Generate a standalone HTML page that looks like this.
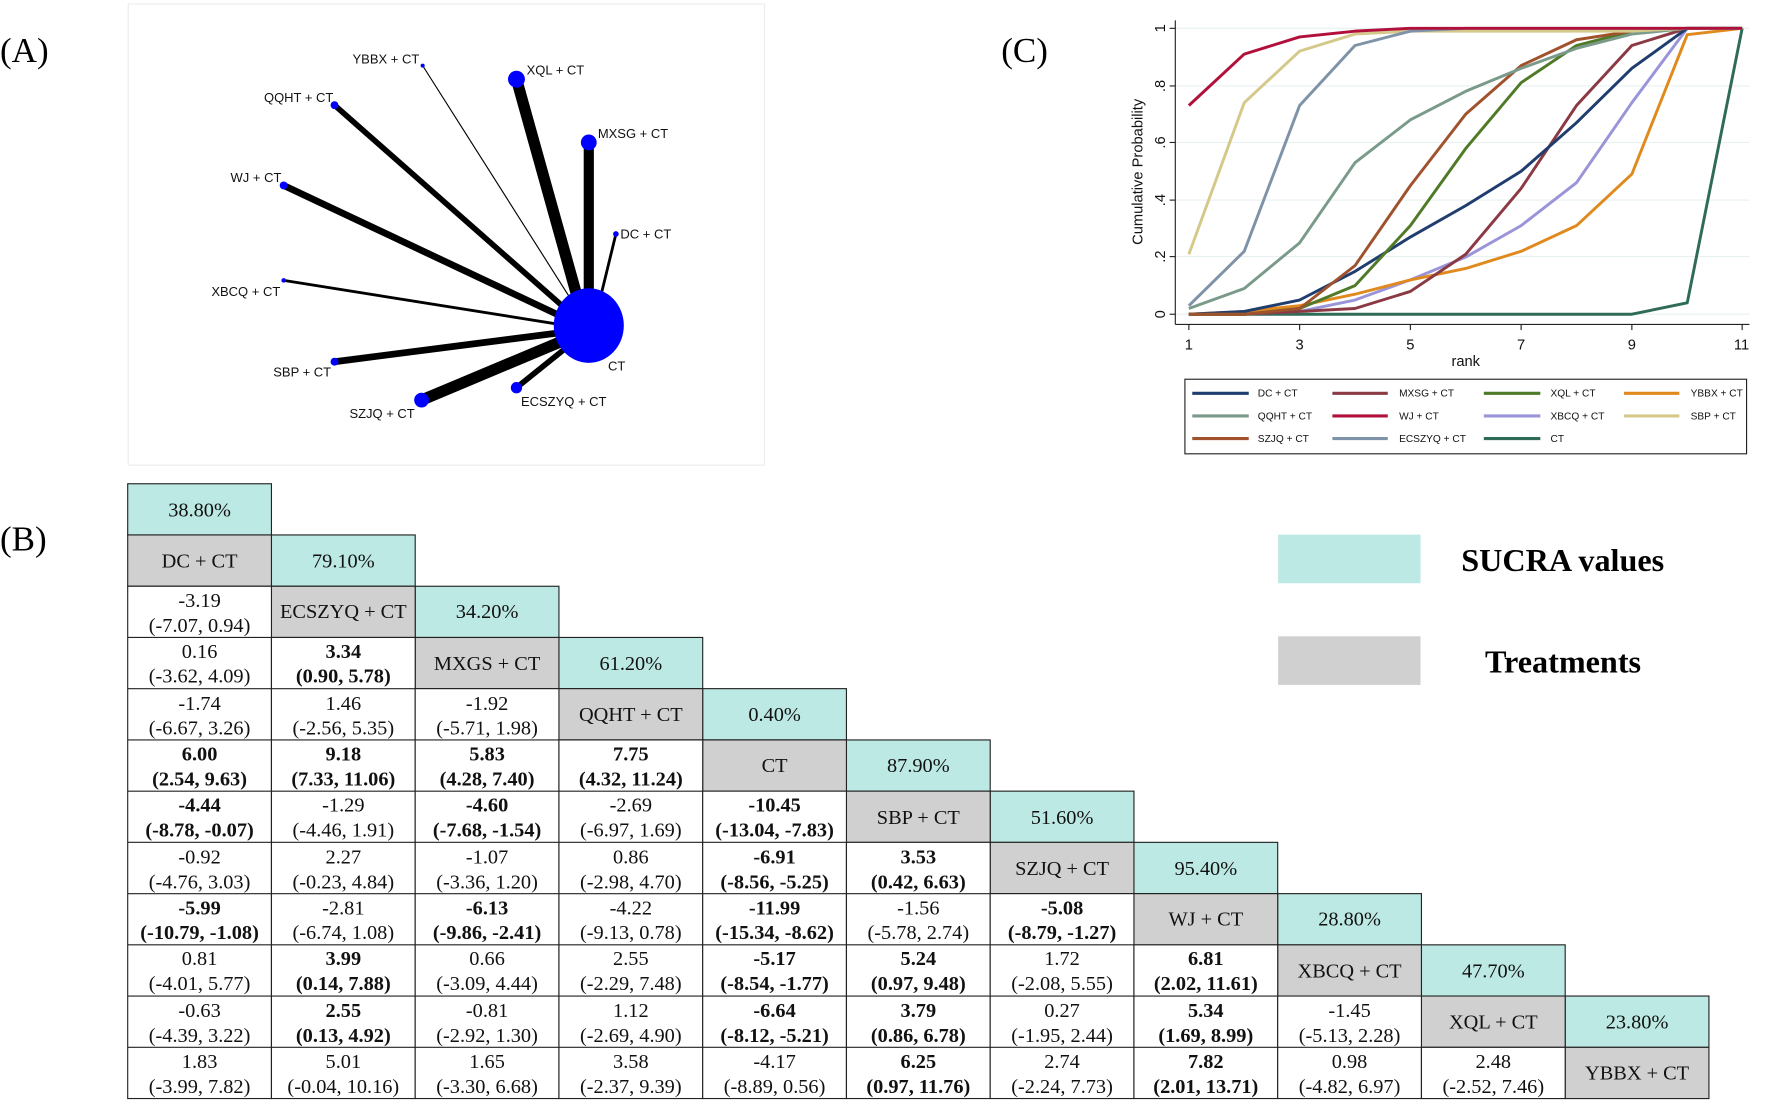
<!DOCTYPE html>
<html><head><meta charset="utf-8"><style>
html,body{margin:0;padding:0;background:#fff;}
svg{display:block;}
.s{font-family:"Liberation Serif",serif;}
.a{font-family:"Liberation Sans",sans-serif;}
.cell text{font-family:"Liberation Serif",serif;font-size:18px;text-anchor:middle;fill:#111;}
.b text{font-weight:bold;}
</style></head><body>
<svg width="1772" height="1102" viewBox="0 0 1568 975" xmlns="http://www.w3.org/2000/svg">
<rect width="1568" height="975" fill="#fff"/>
<text class="s" x="0" y="55" font-size="31">(A)</text>
<text class="s" x="0" y="487" font-size="31">(B)</text>
<text class="s" x="886" y="55" font-size="31">(C)</text>

<rect x="113.5" y="3.5" width="563" height="408" fill="none" stroke="#ececec" stroke-width="1"/>
<g stroke="#000" stroke-linecap="butt">
<line x1="374" y1="58" x2="518" y2="285" stroke-width="1"/>
<line x1="457" y1="70" x2="517" y2="285" stroke-width="10"/>
<line x1="296" y1="93" x2="515" y2="286" stroke-width="5"/>
<line x1="521" y1="126" x2="521" y2="285" stroke-width="9"/>
<line x1="251" y1="164" x2="514" y2="288" stroke-width="6"/>
<line x1="545" y1="207" x2="526" y2="285" stroke-width="2.5"/>
<line x1="251" y1="248" x2="514" y2="290" stroke-width="2.5"/>
<line x1="296" y1="320" x2="514" y2="292" stroke-width="6"/>
<line x1="373" y1="354" x2="516" y2="294" stroke-width="10"/>
<line x1="457" y1="343" x2="518" y2="294" stroke-width="5"/>
</g>
<g fill="#0000ff">
<ellipse cx="521" cy="288" rx="31" ry="33"/>
<circle cx="374" cy="58" r="1.8"/>
<circle cx="457" cy="70" r="7.5"/>
<circle cx="296" cy="93" r="3.5"/>
<circle cx="521" cy="126" r="7"/>
<circle cx="251" cy="164" r="3.5"/>
<circle cx="545" cy="207" r="2.5"/>
<circle cx="251" cy="248" r="2"/>
<circle cx="296" cy="320" r="3.5"/>
<circle cx="373" cy="354" r="6.5"/>
<circle cx="457" cy="343" r="5"/>
</g>
<g class="a" font-size="11.5" fill="#111">
<text x="371" y="56" text-anchor="end">YBBX + CT</text>
<text x="466" y="66">XQL + CT</text>
<text x="295" y="90" text-anchor="end">QQHT + CT</text>
<text x="529" y="122">MXSG + CT</text>
<text x="249" y="161" text-anchor="end">WJ + CT</text>
<text x="549" y="211">DC + CT</text>
<text x="248" y="262" text-anchor="end">XBCQ + CT</text>
<text x="293" y="333" text-anchor="end">SBP + CT</text>
<text x="367" y="370" text-anchor="end">SZJQ + CT</text>
<text x="461" y="359">ECSZYQ + CT</text>
<text x="538" y="328">CT</text>
</g>

<g stroke="#e8f0f0" stroke-width="1">
<line x1="1040" y1="25" x2="1548" y2="25"/>
<line x1="1040" y1="76" x2="1548" y2="76"/>
<line x1="1040" y1="126" x2="1548" y2="126"/>
<line x1="1040" y1="177" x2="1548" y2="177"/>
<line x1="1040" y1="227" x2="1548" y2="227"/>
<line x1="1040" y1="278" x2="1548" y2="278"/>
</g>
<g stroke="#222" stroke-width="1">
<line x1="1040" y1="18" x2="1040" y2="287"/>
<line x1="1040" y1="287" x2="1548" y2="287"/>
<line x1="1035" y1="25" x2="1040" y2="25"/>
<line x1="1035" y1="76" x2="1040" y2="76"/>
<line x1="1035" y1="126" x2="1040" y2="126"/>
<line x1="1035" y1="177" x2="1040" y2="177"/>
<line x1="1035" y1="227" x2="1040" y2="227"/>
<line x1="1035" y1="278" x2="1040" y2="278"/>
<line x1="1052" y1="287" x2="1052" y2="292"/>
<line x1="1150" y1="287" x2="1150" y2="292"/>
<line x1="1248" y1="287" x2="1248" y2="292"/>
<line x1="1346" y1="287" x2="1346" y2="292"/>
<line x1="1444" y1="287" x2="1444" y2="292"/>
<line x1="1541.6" y1="287" x2="1541.6" y2="292"/>
</g>
<g class="a" font-size="13" fill="#111" text-anchor="middle">
<text transform="translate(1031,278) rotate(-90)">0</text>
<text transform="translate(1031,227) rotate(-90)">.2</text>
<text transform="translate(1031,177) rotate(-90)">.4</text>
<text transform="translate(1031,126) rotate(-90)">.6</text>
<text transform="translate(1031,76) rotate(-90)">.8</text>
<text transform="translate(1031,25) rotate(-90)">1</text>
<text x="1052" y="309">1</text>
<text x="1150" y="309">3</text>
<text x="1248" y="309">5</text>
<text x="1346" y="309">7</text>
<text x="1444" y="309">9</text>
<text x="1541" y="309">11</text>
<text x="1297" y="324">rank</text>
<text transform="translate(1011,152) rotate(-90)">Cumulative Probability</text>
</g>
<g fill="none" stroke-width="2.6" stroke-linejoin="round">
<polyline stroke="#2f6b57" points="1052,278 1101,278 1150,278 1199,278 1248,278 1297,278 1346,278 1395,278 1444,278 1493,267.9 1541.6,25"/>
<polyline stroke="#9a94d8" points="1052,278 1101,278 1150,275.5 1199,265.4 1248,247.6 1297,227.4 1346,199.6 1395,161.6 1444,90.8 1493,25 1541.6,25"/>
<polyline stroke="#e08a1e" points="1052,278 1101,275.5 1150,270.4 1199,260.3 1248,247.6 1297,237.5 1346,222.3 1395,199.6 1444,154 1493,30.6 1541.6,25"/>
<polyline stroke="#8b3a44" points="1052,278 1101,278 1150,275.5 1199,272.9 1248,257.8 1297,224.9 1346,166.7 1395,93.3 1444,40.2 1493,25 1541.6,25"/>
<polyline stroke="#1f3d6e" points="1052,278 1101,275.5 1150,265.4 1199,240.1 1248,209.7 1297,181.9 1346,151.5 1395,108.5 1444,60.4 1493,25 1541.6,25"/>
<polyline stroke="#4f7a28" points="1052,278 1101,278 1150,272.9 1199,252.7 1248,199.6 1297,131.3 1346,73.1 1395,40.2 1444,27.5 1493,25 1541.6,25"/>
<polyline stroke="#a0522d" points="1052,278 1101,278 1150,272.9 1199,235 1248,164.2 1297,100.9 1346,58 1395,35.1 1444,27.5 1493,25 1541.6,25"/>
<polyline stroke="#7a9a8a" points="1052,272.9 1101,255.2 1150,214.8 1199,143.9 1248,106 1297,80.7 1346,60.4 1395,42.7 1444,30.1 1493,25 1541.6,25"/>
<polyline stroke="#d4c98a" points="1052,224.9 1101,90.8 1150,45.2 1199,30.1 1248,27.5 1297,27.5 1346,27.5 1395,27.5 1444,27.5 1493,25 1541.6,25"/>
<polyline stroke="#7f93a8" points="1052,270.4 1101,222.3 1150,93.3 1199,40.2 1248,27.5 1297,25 1346,25 1395,25 1444,25 1493,25 1541.6,25"/>
<polyline stroke="#b0103a" points="1052,93.3 1101,47.8 1150,32.6 1199,27.5 1248,25 1297,25 1346,25 1395,25 1444,25 1493,25 1541.6,25"/>
</g>
<rect x="1048.5" y="335.5" width="497" height="66" fill="none" stroke="#222" stroke-width="1"/>
<g stroke-width="2.8">
<line x1="1055" y1="348" x2="1105" y2="348" stroke="#1f3d6e"/>
<line x1="1179" y1="348" x2="1228" y2="348" stroke="#8b3a44"/>
<line x1="1313" y1="348" x2="1363" y2="348" stroke="#4f7a28"/>
<line x1="1437" y1="348" x2="1486" y2="348" stroke="#e08a1e"/>
<line x1="1055" y1="368" x2="1105" y2="368" stroke="#7a9a8a"/>
<line x1="1179" y1="368" x2="1228" y2="368" stroke="#b0103a"/>
<line x1="1313" y1="368" x2="1363" y2="368" stroke="#9a94d8"/>
<line x1="1437" y1="368" x2="1486" y2="368" stroke="#d4c98a"/>
<line x1="1055" y1="388" x2="1105" y2="388" stroke="#a0522d"/>
<line x1="1179" y1="388" x2="1228" y2="388" stroke="#7f93a8"/>
<line x1="1313" y1="388" x2="1363" y2="388" stroke="#2f6b57"/>
</g>
<g class="a" font-size="9" fill="#111">
<text x="1113" y="351">DC + CT</text>
<text x="1238" y="351">MXSG + CT</text>
<text x="1372" y="351">XQL + CT</text>
<text x="1496" y="351">YBBX + CT</text>
<text x="1113" y="371">QQHT + CT</text>
<text x="1238" y="371">WJ + CT</text>
<text x="1372" y="371">XBCQ + CT</text>
<text x="1496" y="371">SBP + CT</text>
<text x="1113" y="391">SZJQ + CT</text>
<text x="1238" y="391">ECSZYQ + CT</text>
<text x="1372" y="391">CT</text>
</g>

<rect x="1131" y="473" width="126" height="43" fill="#bde9e4"/>
<rect x="1131" y="563" width="126" height="43" fill="#d0d0d0"/>
<text class="s" x="1293" y="505" font-size="28.5" font-weight="bold">SUCRA values</text>
<text class="s" x="1314" y="595" font-size="28.5" font-weight="bold">Treatments</text>

<g stroke="#222" stroke-width="1">
<g fill="#bde9e4">
<rect x="113" y="428" width="127.2" height="45.33"/>
<rect x="240.2" y="473.3" width="127.2" height="45.33"/>
<rect x="367.4" y="518.7" width="127.2" height="45.33"/>
<rect x="494.6" y="564" width="127.2" height="45.33"/>
<rect x="621.8" y="609.3" width="127.2" height="45.33"/>
<rect x="749" y="654.7" width="127.2" height="45.33"/>
<rect x="876.2" y="700" width="127.2" height="45.33"/>
<rect x="1003.4" y="745.3" width="127.2" height="45.33"/>
<rect x="1130.6" y="790.7" width="127.2" height="45.33"/>
<rect x="1257.8" y="836" width="127.2" height="45.33"/>
<rect x="1385" y="881.3" width="127.2" height="45.33"/>
</g>
<g fill="#d0d0d0">
<rect x="113" y="473.3" width="127.2" height="45.33"/>
<rect x="240.2" y="518.7" width="127.2" height="45.33"/>
<rect x="367.4" y="564" width="127.2" height="45.33"/>
<rect x="494.6" y="609.3" width="127.2" height="45.33"/>
<rect x="621.8" y="654.7" width="127.2" height="45.33"/>
<rect x="749" y="700" width="127.2" height="45.33"/>
<rect x="876.2" y="745.3" width="127.2" height="45.33"/>
<rect x="1003.4" y="790.7" width="127.2" height="45.33"/>
<rect x="1130.6" y="836" width="127.2" height="45.33"/>
<rect x="1257.8" y="881.3" width="127.2" height="45.33"/>
<rect x="1385" y="926.7" width="127.2" height="45.33"/>
</g>
<g fill="#fff">
<rect x="113" y="518.7" width="127.2" height="453.3"/>
<rect x="240.2" y="564" width="127.2" height="408"/>
<rect x="367.4" y="609.3" width="127.2" height="362.7"/>
<rect x="494.6" y="654.7" width="127.2" height="317.3"/>
<rect x="621.8" y="700" width="127.2" height="272"/>
<rect x="749" y="745.3" width="127.2" height="226.7"/>
<rect x="876.2" y="790.7" width="127.2" height="181.3"/>
<rect x="1003.4" y="836" width="127.2" height="136"/>
<rect x="1130.6" y="881.3" width="127.2" height="90.7"/>
<rect x="1257.8" y="926.7" width="127.2" height="45.33"/>
</g>
<g>
<line x1="113" y1="564" x2="240.2" y2="564"/>
<line x1="113" y1="609.3" x2="367.4" y2="609.3"/>
<line x1="113" y1="654.7" x2="494.6" y2="654.7"/>
<line x1="113" y1="700" x2="621.8" y2="700"/>
<line x1="113" y1="745.3" x2="749" y2="745.3"/>
<line x1="113" y1="790.7" x2="876.2" y2="790.7"/>
<line x1="113" y1="836" x2="1003.4" y2="836"/>
<line x1="113" y1="881.3" x2="1130.6" y2="881.3"/>
<line x1="113" y1="926.7" x2="1257.8" y2="926.7"/>
</g>
</g>

<g class="cell">
<text x="176.6" y="457">38.80%</text>
<text x="303.8" y="502">79.10%</text>
<text x="431" y="547">34.20%</text>
<text x="558.2" y="593">61.20%</text>
<text x="685.4" y="638">0.40%</text>
<text x="812.6" y="683">87.90%</text>
<text x="939.8" y="729">51.60%</text>
<text x="1067" y="774">95.40%</text>
<text x="1194.2" y="819">28.80%</text>
<text x="1321.4" y="865">47.70%</text>
<text x="1448.6" y="910">23.80%</text>
<text x="176.6" y="502">DC + CT</text>
<text x="303.8" y="547">ECSZYQ + CT</text>
<text x="431" y="593">MXGS + CT</text>
<text x="558.2" y="638">QQHT + CT</text>
<text x="685.4" y="683">CT</text>
<text x="812.6" y="729">SBP + CT</text>
<text x="939.8" y="774">SZJQ + CT</text>
<text x="1067" y="819">WJ + CT</text>
<text x="1194.2" y="865">XBCQ + CT</text>
<text x="1321.4" y="910">XQL + CT</text>
<text x="1448.6" y="955">YBBX + CT</text>

<text x="176.6" y="537">-3.19</text><text x="176.6" y="559">(-7.07, 0.94)</text>
<text x="176.6" y="582">0.16</text><text x="176.6" y="604">(-3.62, 4.09)</text>
<g class="b"><text x="303.8" y="582">3.34</text><text x="303.8" y="604">(0.90, 5.78)</text></g>
<text x="176.6" y="628">-1.74</text><text x="176.6" y="650">(-6.67, 3.26)</text>
<text x="303.8" y="628">1.46</text><text x="303.8" y="650">(-2.56, 5.35)</text>
<text x="431" y="628">-1.92</text><text x="431" y="650">(-5.71, 1.98)</text>
<g class="b">
<text x="176.6" y="673">6.00</text><text x="176.6" y="695">(2.54, 9.63)</text>
<text x="303.8" y="673">9.18</text><text x="303.8" y="695">(7.33, 11.06)</text>
<text x="431" y="673">5.83</text><text x="431" y="695">(4.28, 7.40)</text>
<text x="558.2" y="673">7.75</text><text x="558.2" y="695">(4.32, 11.24)</text>
</g>
<g class="b"><text x="176.6" y="718">-4.44</text><text x="176.6" y="740">(-8.78, -0.07)</text></g>
<text x="303.8" y="718">-1.29</text><text x="303.8" y="740">(-4.46, 1.91)</text>
<g class="b"><text x="431" y="718">-4.60</text><text x="431" y="740">(-7.68, -1.54)</text></g>
<text x="558.2" y="718">-2.69</text><text x="558.2" y="740">(-6.97, 1.69)</text>
<g class="b"><text x="685.4" y="718">-10.45</text><text x="685.4" y="740">(-13.04, -7.83)</text></g>
<text x="176.6" y="764">-0.92</text><text x="176.6" y="786">(-4.76, 3.03)</text>
<text x="303.8" y="764">2.27</text><text x="303.8" y="786">(-0.23, 4.84)</text>
<text x="431" y="764">-1.07</text><text x="431" y="786">(-3.36, 1.20)</text>
<text x="558.2" y="764">0.86</text><text x="558.2" y="786">(-2.98, 4.70)</text>
<g class="b"><text x="685.4" y="764">-6.91</text><text x="685.4" y="786">(-8.56, -5.25)</text>
<text x="812.6" y="764">3.53</text><text x="812.6" y="786">(0.42, 6.63)</text></g>
<g class="b"><text x="176.6" y="809">-5.99</text><text x="176.6" y="831">(-10.79, -1.08)</text></g>
<text x="303.8" y="809">-2.81</text><text x="303.8" y="831">(-6.74, 1.08)</text>
<g class="b"><text x="431" y="809">-6.13</text><text x="431" y="831">(-9.86, -2.41)</text></g>
<text x="558.2" y="809">-4.22</text><text x="558.2" y="831">(-9.13, 0.78)</text>
<g class="b"><text x="685.4" y="809">-11.99</text><text x="685.4" y="831">(-15.34, -8.62)</text></g>
<text x="812.6" y="809">-1.56</text><text x="812.6" y="831">(-5.78, 2.74)</text>
<g class="b"><text x="939.8" y="809">-5.08</text><text x="939.8" y="831">(-8.79, -1.27)</text></g>
<text x="176.6" y="854">0.81</text><text x="176.6" y="876">(-4.01, 5.77)</text>
<g class="b"><text x="303.8" y="854">3.99</text><text x="303.8" y="876">(0.14, 7.88)</text></g>
<text x="431" y="854">0.66</text><text x="431" y="876">(-3.09, 4.44)</text>
<text x="558.2" y="854">2.55</text><text x="558.2" y="876">(-2.29, 7.48)</text>
<g class="b"><text x="685.4" y="854">-5.17</text><text x="685.4" y="876">(-8.54, -1.77)</text>
<text x="812.6" y="854">5.24</text><text x="812.6" y="876">(0.97, 9.48)</text></g>
<text x="939.8" y="854">1.72</text><text x="939.8" y="876">(-2.08, 5.55)</text>
<g class="b"><text x="1067" y="854">6.81</text><text x="1067" y="876">(2.02, 11.61)</text></g>
<text x="176.6" y="900">-0.63</text><text x="176.6" y="922">(-4.39, 3.22)</text>
<g class="b"><text x="303.8" y="900">2.55</text><text x="303.8" y="922">(0.13, 4.92)</text></g>
<text x="431" y="900">-0.81</text><text x="431" y="922">(-2.92, 1.30)</text>
<text x="558.2" y="900">1.12</text><text x="558.2" y="922">(-2.69, 4.90)</text>
<g class="b"><text x="685.4" y="900">-6.64</text><text x="685.4" y="922">(-8.12, -5.21)</text>
<text x="812.6" y="900">3.79</text><text x="812.6" y="922">(0.86, 6.78)</text></g>
<text x="939.8" y="900">0.27</text><text x="939.8" y="922">(-1.95, 2.44)</text>
<g class="b"><text x="1067" y="900">5.34</text><text x="1067" y="922">(1.69, 8.99)</text></g>
<text x="1194.2" y="900">-1.45</text><text x="1194.2" y="922">(-5.13, 2.28)</text>
<text x="176.6" y="945">1.83</text><text x="176.6" y="967">(-3.99, 7.82)</text>
<text x="303.8" y="945">5.01</text><text x="303.8" y="967">(-0.04, 10.16)</text>
<text x="431" y="945">1.65</text><text x="431" y="967">(-3.30, 6.68)</text>
<text x="558.2" y="945">3.58</text><text x="558.2" y="967">(-2.37, 9.39)</text>
<text x="685.4" y="945">-4.17</text><text x="685.4" y="967">(-8.89, 0.56)</text>
<g class="b"><text x="812.6" y="945">6.25</text><text x="812.6" y="967">(0.97, 11.76)</text></g>
<text x="939.8" y="945">2.74</text><text x="939.8" y="967">(-2.24, 7.73)</text>
<g class="b"><text x="1067" y="945">7.82</text><text x="1067" y="967">(2.01, 13.71)</text></g>
<text x="1194.2" y="945">0.98</text><text x="1194.2" y="967">(-4.82, 6.97)</text>
<text x="1321.4" y="945">2.48</text><text x="1321.4" y="967">(-2.52, 7.46)</text>
</g>
</svg>
</body></html>
